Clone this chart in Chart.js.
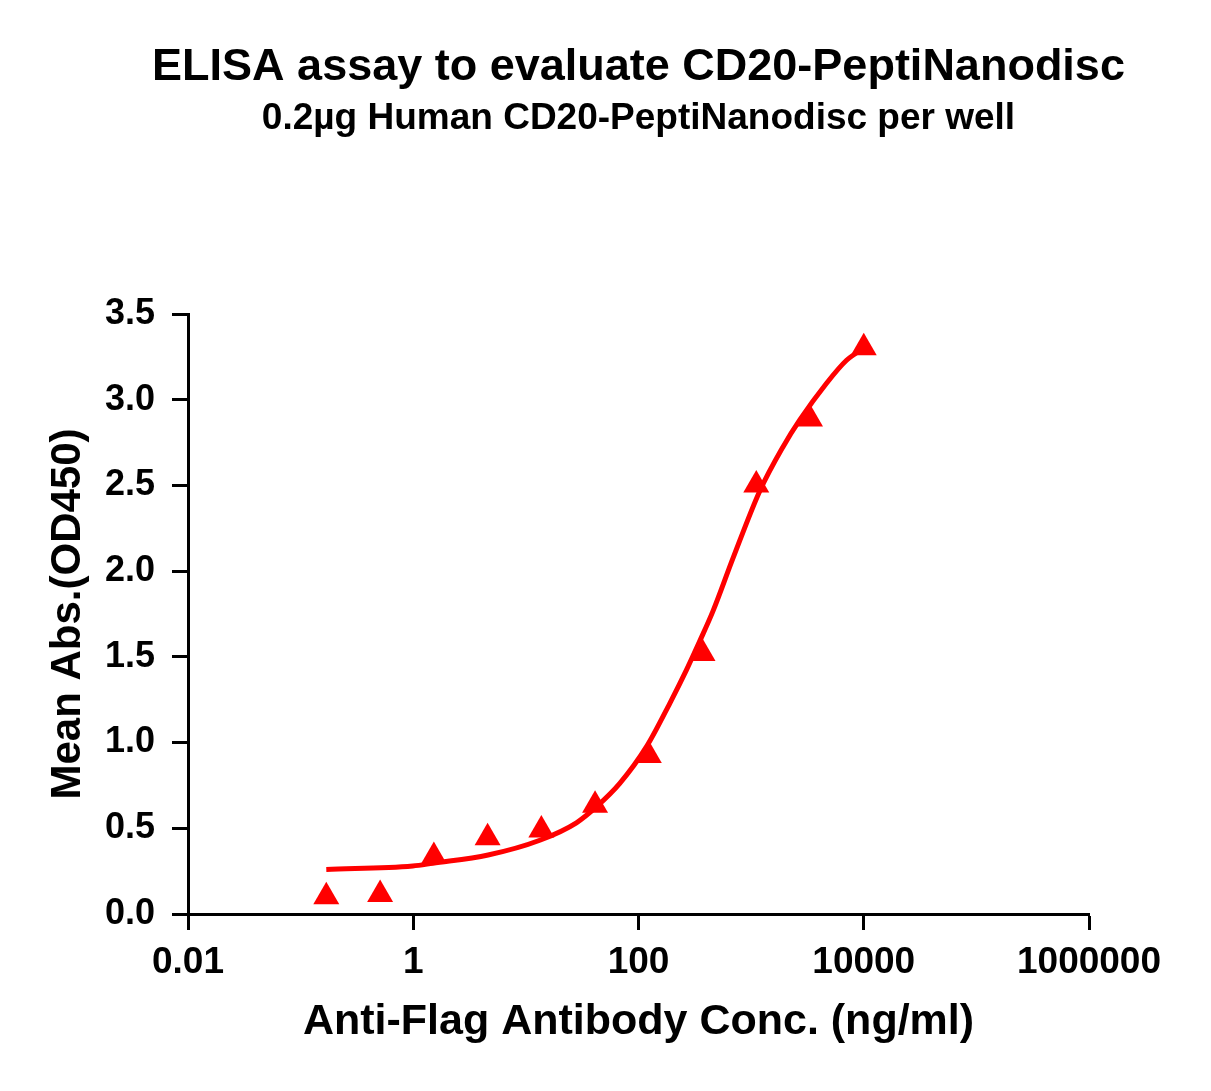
<!DOCTYPE html>
<html>
<head>
<meta charset="utf-8">
<script src="https://cdn.jsdelivr.net/npm/chart.js@4.4.1/dist/chart.umd.min.js"></script>
<style>
  html, body { margin: 0; padding: 0; background: #fff; }
  #wrap { width: 1211px; height: 1091px; }
</style>
</head>
<body>
<div id="wrap"><canvas id="canvas" width="1211" height="1091"></canvas></div>
<script>
// measured points (triangles)
const concs = [0.169, 0.508, 1.524, 4.572, 13.72, 41.15, 123.5, 370.4, 1111, 3333, 10000];
const meanAbs = [0.101, 0.114, 0.336, 0.445, 0.490, 0.634, 0.925, 1.520, 2.502, 2.888, 3.303];

// fitted curve
const curveX = [0.169, 0.99, 1.49, 4.62, 13.3, 28.1, 42.4, 68.2, 117.8, 189.7, 266.8, 349.9, 459.3, 691.8, 1194, 1923, 2704, 4673, 7037, 10000];
const curveY = [0.26, 0.28, 0.296, 0.344, 0.43, 0.532, 0.626, 0.762, 0.976, 1.229, 1.424, 1.592, 1.768, 2.077, 2.468, 2.726, 2.882, 3.096, 3.23, 3.30];

const xTicks = [0.01, 1, 100, 10000, 1000000];
const xTickLabels = ["0.01", "1", "100", "10000", "1000000"];

const titleText = "ELISA assay to evaluate CD20-PeptiNanodisc";
const subtitleText = "0.2µg Human CD20-PeptiNanodisc per well";

const FONT = "'Liberation Sans', Arial, sans-serif";

// titles centred over the plot area, like Prism does
const titlePlugin = {
  id: "plotTitles",
  afterDraw(chart) {
    const ctx = chart.ctx;
    const cx = (chart.chartArea.left + chart.chartArea.right) / 2;
    ctx.save();
    ctx.fillStyle = "#000";
    ctx.textAlign = "center";
    ctx.textBaseline = "middle";
    ctx.font = "bold 45px " + FONT;
    ctx.fillText(titleText, cx, 68);
    ctx.font = "bold 37px " + FONT;
    ctx.fillText(subtitleText, cx, 119);
    ctx.restore();
  },
};

const ctx = document.getElementById("canvas").getContext("2d");
new Chart(ctx, {
  type: "scatter",
  data: {
    datasets: [
      {
        label: "fit",
        data: curveX.map((x, i) => ({ x: x, y: curveY[i] })),
        showLine: true,
        borderColor: "#ff0000",
        borderWidth: 5,
        pointRadius: 0,
        cubicInterpolationMode: "monotone",
        order: 2,
      },
      {
        label: "Mean Abs.",
        data: concs.map((x, i) => ({ x: x, y: meanAbs[i] })),
        pointStyle: "triangle",
        pointRadius: 15,
        pointBackgroundColor: "#ff0000",
        pointBorderColor: "#ff0000",
        pointBorderWidth: 0,
        order: 1,
      },
    ],
  },
  options: {
    responsive: false,
    animation: false,
    layout: {
      padding: { top: 314, left: 0, right: 122, bottom: 0 },
    },
    plugins: {
      legend: { display: false },
      tooltip: { enabled: false },
      title: { display: false },
    },
    scales: {
      x: {
        type: "logarithmic",
        min: 0.01,
        max: 1000000,
        afterBuildTicks: (scale) => {
          scale.ticks = xTicks.map((v) => ({ value: v }));
        },
        afterFit: (scale) => {
          scale.height = 177;
        },
        ticks: {
          autoSkip: false,
          maxRotation: 0,
          padding: 11,
          color: "#000",
          font: { family: FONT, size: 37, weight: "bold" },
          callback: (value) => {
            const i = xTicks.indexOf(value);
            return i >= 0 ? xTickLabels[i] : "";
          },
        },
        grid: {
          drawOnChartArea: false,
          drawTicks: true,
          tickLength: 16,
          tickWidth: 3,
          tickColor: "#000",
        },
        border: { display: true, color: "#000", width: 3 },
        title: {
          display: true,
          text: "Anti-Flag Antibody Conc. (ng/ml)",
          color: "#000",
          font: { family: FONT, size: 43, weight: "bold" },
          padding: { top: 0, bottom: 43 },
        },
      },
      y: {
        min: 0,
        max: 3.5,
        afterFit: (scale) => {
          scale.width = 188;
        },
        ticks: {
          stepSize: 0.5,
          padding: 17,
          color: "#000",
          font: { family: FONT, size: 36, weight: "bold" },
          callback: (value) => value.toFixed(1),
        },
        grid: {
          drawOnChartArea: false,
          drawTicks: true,
          tickLength: 16,
          tickWidth: 3,
          tickColor: "#000",
        },
        border: { display: true, color: "#000", width: 3 },
        title: {
          display: true,
          text: "Mean Abs.(OD450)",
          color: "#000",
          font: { family: FONT, size: 42, weight: "bold" },
          padding: { top: 43, bottom: 0 },
        },
      },
    },
  },
  plugins: [titlePlugin],
});
</script>
</body>
</html>
